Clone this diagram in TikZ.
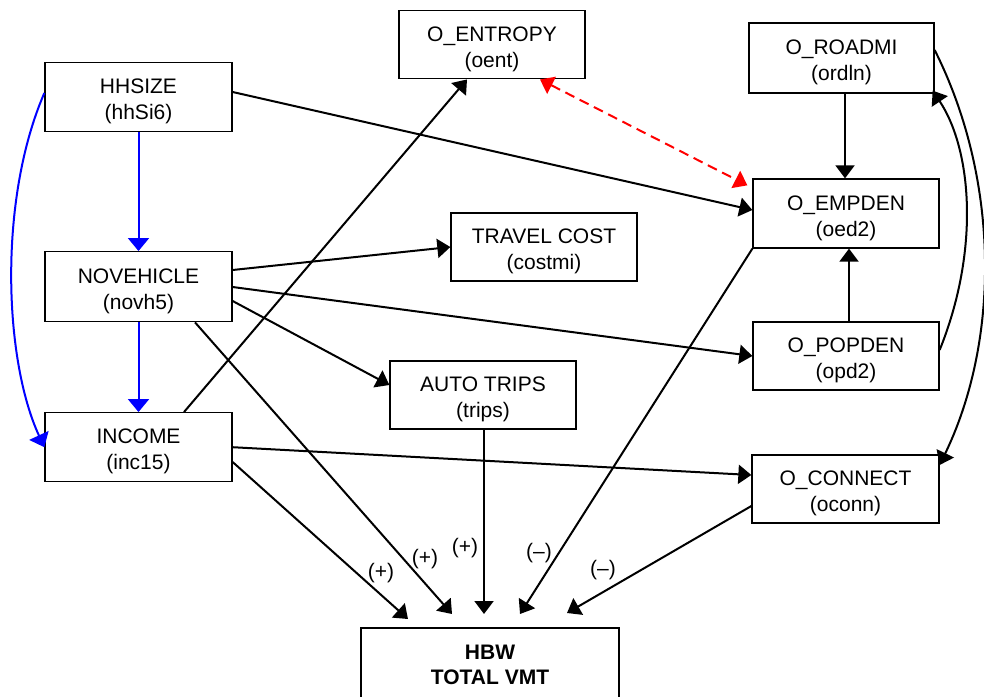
\documentclass[tikz,border=0pt]{standalone}
\usepackage{fontspec}
\setmainfont{Liberation Sans}
\usetikzlibrary{arrows.meta,calc}
\definecolor{pureblue}{RGB}{0,0,255}
\definecolor{purered}{RGB}{255,0,0}
\begin{document}
\begin{tikzpicture}[x=1pt,y=-1pt,
  box/.style={draw, line width=1.3pt, inner sep=0pt},
  boxtext/.style={inner sep=0pt, align=center, font=\fontsize{21}{26}\selectfont},
  conn/.style={line width=2pt, -{Triangle[length=13pt,width=19pt]}},
  blueconn/.style={conn, draw=pureblue, -{Triangle[length=13pt,width=21pt]}, pureblue},
  redconn/.style={line width=2pt, draw=purered, dash pattern=on 10pt off 6pt,
    {Triangle[length=13pt,width=19pt]}-{Triangle[length=13pt,width=19pt]}, purered},
  sign/.style={font=\fontsize{21}{26}\selectfont, inner sep=0pt}]
\useasboundingbox (0,0) rectangle (984,696);

% box frames
\node[box, minimum width=187pt, minimum height=69pt] (hh) at (138.5,97.2) {};
\node[box, minimum width=187pt, minimum height=70pt] (nov) at (138.5,286.7) {};
\node[box, minimum width=187pt, minimum height=69pt] (inc) at (138.5,447.2) {};
\node[box, minimum width=186pt, minimum height=68pt] (ent) at (492,44.8) {};
\node[box, minimum width=185pt, minimum height=70pt] (rd) at (841.5,58) {};
\node[box, minimum width=186pt, minimum height=69pt] (emp) at (846,213.5) {};
\node[box, minimum width=186pt, minimum height=68pt] (pop) at (846,356) {};
\node[box, minimum width=187pt, minimum height=68pt] (con) at (845.5,489) {};
\node[box, minimum width=186pt, minimum height=68pt] (tc) at (544,247) {};
\node[box, minimum width=186pt, minimum height=68pt] (at) at (483,395) {};
\node[box, minimum width=258pt, minimum height=70pt] (hbw) at (490,663) {};

% box texts
\node[boxtext] (hh-t) at ([yshift=-4.5pt]hh.center) {HHSIZE\\(hhSi6)};
\node[boxtext] (nov-t) at ([yshift=-4.5pt]nov.center) {NOVEHICLE\\(novh5)};
\node[boxtext] (inc-t) at ([yshift=-4.5pt]inc.center) {INCOME\\(inc15)};
\node[boxtext] (ent-t) at ([yshift=-4.5pt]ent.center) {O\_ENTROPY\\(oent)};
\node[boxtext] (rd-t) at ([yshift=-4.5pt]rd.center) {O\_ROADMI\\(ordln)};
\node[boxtext] (emp-t) at ([yshift=-4.5pt]emp.center) {O\_EMPDEN\\(oed2)};
\node[boxtext] (pop-t) at ([yshift=-4.5pt]pop.center) {O\_POPDEN\\(opd2)};
\node[boxtext] (con-t) at ([yshift=-4.5pt]con.center) {O\_CONNECT\\(oconn)};
\node[boxtext] (tc-t) at ([yshift=-4.5pt]tc.center) {TRAVEL COST\\(costmi)};
\node[boxtext] (at-t) at ([yshift=-4.5pt]at.center) {AUTO TRIPS\\(trips)};
\node[boxtext, font=\fontsize{21}{25}\selectfont\bfseries] (hbw-t) at ([yshift=-2pt]hbw.center) {HBW\\TOTAL VMT};

% free arrow ends above HBW
\coordinate (t1) at (408,619);
\coordinate (t2) at (452,614);
\coordinate (t3) at (484,614);
\coordinate (t4) at (520,614);
\coordinate (t5) at (567,613);

% blue connectors
\draw[blueconn] (hh.south) -- (nov.north);
\draw[blueconn] (nov.south) -- (inc.north);
\draw[blueconn] (hh.west |- 0,93) .. controls (-2,200) and (4,360) .. (inc.west);

% black connectors
\draw[conn] (hh.east |- 0,92) -- (emp.west |- 0,210);
\draw[conn] (nov.east |- 0,270) -- (tc.west);
\draw[conn] (nov.east |- 0,287) -- (pop.west);
\draw[conn] (nov.east |- 0,301) -- (at.west |- 0,385);
\draw[conn] (nov.south -| 195,0) -- (t2);
\draw[conn] (inc.north -| 184,0) -- (ent.south -| 467,0);
\draw[conn] (inc.east) -- (con.west |- 0,475);
\draw[conn] (inc.east |- 0,462) -- (t1);
\draw[conn] (at.south -| 484,0) -- (t3);
\draw[conn] (emp.south west) -- (t4);
\draw[conn] (con.west |- 0,506) -- (t5);
\draw[conn] (rd.south -| 845,0) -- (emp.north -| 845,0);
\draw[conn] (pop.north -| 849,0) -- (emp.south -| 849,0);
\draw[conn] (pop.east |- 0,350) .. controls (980,250) and (972,150) .. ([xshift=-2pt,yshift=3pt]rd.south east);
\draw[conn] (rd.east |- 0,50) .. controls (1000,180) and (1000,340) .. (con.east |- 0,465);

% red dashed double arrow
\draw[redconn] (ent.south -| 540,0) -- ([xshift=-5pt,yshift=-7pt]emp.north west);

% signs
\node[sign] (s1) at (381,573) {(+)};
\node[sign] (s2) at (425,559) {(+)};
\node[sign] (s3) at (465,548) {(+)};
\node[sign] (s4) at (539,553) {(–)};
\node[sign] (s5) at (603,570) {(–)};
\end{tikzpicture}
\end{document}
